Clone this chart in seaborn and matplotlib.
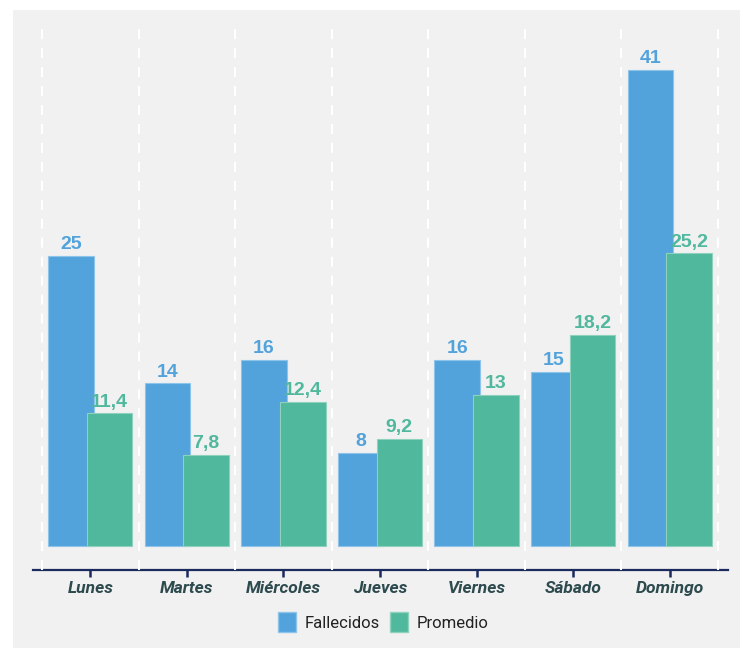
import matplotlib
matplotlib.use("Agg")
import numpy as np
import pandas as pd
import matplotlib.pyplot as plt
import matplotlib.patches as mpatches
import seaborn as sns

# Data
dias = ["Lunes", "Martes", "Miércoles", "Jueves", "Viernes", "Sábado", "Domingo"]
fallecidos = [25, 14, 16, 8, 16, 15, 41]
promedio = [11.4, 7.8, 12.4, 9.2, 13, 18.2, 25.2]
series = ["Fallecidos", "Promedio"]

blue = "#52A3DB"
green = "#50B89D"
bg = "#F1F1F1"
navy = "#1B2A5C"

df = pd.DataFrame({
    "dia": dias * 2,
    "serie": [series[0]] * len(dias) + [series[1]] * len(dias),
    "valor": fallecidos + promedio,
})

sns.set_style("ticks")

fig = plt.figure(figsize=(7.46, 6.52), dpi=100)
fig.patch.set_facecolor("white")
# gray panel behind the chart
panel = mpatches.Rectangle((13 / 746, 4 / 652), 727 / 746, 638 / 652,
                           transform=fig.transFigure, facecolor=bg,
                           edgecolor="none", zorder=-10)
fig.add_artist(panel)

ax = fig.add_axes([33 / 746, 1 - 570 / 652, 695 / 746, 547 / 652])
ax.set_facecolor(bg)

sns.barplot(data=df, x="dia", y="valor", hue="serie", palette=[blue, green],
            order=dias, hue_order=series, dodge=True, width=0.8, saturation=1,
            ax=ax, legend=False)

# wider bars that overlap a little, like the original
for i, cont in enumerate(ax.containers):
    for p in cont:
        c = p.get_x() + p.get_width() / 2
        p.set_width(0.472)
        p.set_x(c - 0.236)
        p.set_edgecolor("#8EC4EA" if i == 0 else "#8ED2BE")
        p.set_linewidth(0.8)

fmt = lambda v: (f"{v:g}").replace(".", ",")
ax.bar_label(ax.containers[0], labels=[fmt(v) for v in fallecidos], padding=2,
             fontsize=14, fontweight="bold", color=blue, family="Liberation Sans")
ax.bar_label(ax.containers[1], labels=[fmt(v) for v in promedio], padding=2,
             fontsize=14, fontweight="bold", color=green, family="Liberation Sans")

ax.set_xlim(-0.593, 6.603)
ax.set_ylim(-2.09, 45.06)

# dashed white separators between days
ax.set_xticks(np.arange(-0.5, 7, 1), minor=True)
ax.grid(which="minor", axis="x", color="white", lw=1.5, ls=(0, (4.8, 4.3)))
ax.grid(which="major", visible=False)
ax.set_axisbelow(False)
for gl in ax.xaxis.get_gridlines(minor=True) if False else []:
    pass

for s in ["top", "left", "right"]:
    ax.spines[s].set_visible(False)
ax.spines["bottom"].set_color(navy)
ax.spines["bottom"].set_linewidth(1.6)
ax.spines["bottom"].set_zorder(0.4)

ax.set_yticks([])
ax.set_xlabel("")
ax.set_ylabel("")
ax.tick_params(axis="x", which="major", bottom=True, top=False, direction="out",
               length=5, width=1.8, color=navy, pad=3)
ax.tick_params(axis="x", which="minor", bottom=False, top=False, length=0)

for t in ax.get_xticklabels():
    t.set_fontfamily("Roboto")
    t.set_fontstyle("italic")
    t.set_fontweight("bold")
    t.set_fontsize(12.5)
    t.set_color("#2D4A4E")

# keep bars above the dashed separators
for cont in ax.containers:
    for p in cont:
        p.set_zorder(2)
for txt in ax.texts:
    txt.set_zorder(3)

handles = [mpatches.Patch(facecolor=blue, edgecolor="#8EC4EA", label=series[0]),
           mpatches.Patch(facecolor=green, edgecolor="#8ED2BE", label=series[1])]
fig.legend(handles=handles, loc="center", bbox_to_anchor=(383 / 746, 1 - 622 / 652),
           ncol=2, frameon=False, handlelength=1.1, handleheight=1.5,
           handletextpad=0.5, columnspacing=0.6,
           prop={"family": "Roboto", "size": 12}, labelcolor="#222222")

fig.savefig("out.png", dpi=100, facecolor="white")
